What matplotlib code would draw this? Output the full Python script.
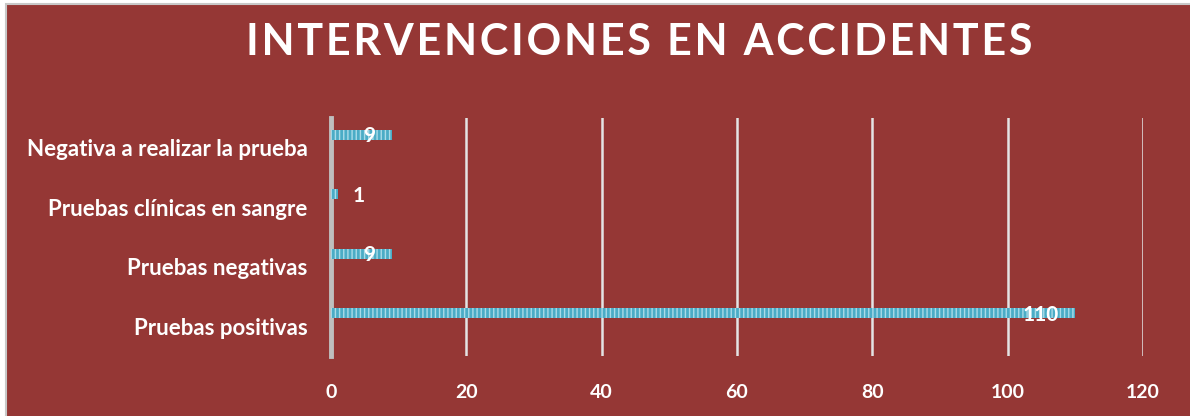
import matplotlib
matplotlib.use("Agg")
import matplotlib.pyplot as plt
from matplotlib.patches import Rectangle

categories = ["Pruebas positivas", "Pruebas negativas",
              "Pruebas clínicas en sangre", "Negativa a realizar la prueba"]
values = [110, 9, 1, 9]
xticks = [0, 20, 40, 60, 80, 100, 120]

red = "#953735"
blue = "#4bacc6"

plt.rcParams["font.family"] = ["Lato", "DejaVu Sans"]
plt.rcParams["hatch.color"] = "#a9dbe8"
plt.rcParams["hatch.linewidth"] = 1.0

fig = plt.figure(figsize=(11.9, 4.16), dpi=100, facecolor="white")
fig.patches.append(Rectangle((6 / 1190, -0.02), 1.02, (416 - 4) / 416 + 0.02,
                             transform=fig.transFigure, facecolor=red,
                             edgecolor="#c8c8c8", lw=1.5, zorder=-5))

ax = fig.add_axes([331 / 1190, 1 - 356 / 416, (1143 - 331) / 1190, (356 - 118) / 416])
ax.set_facecolor("none")

ypos = list(range(len(categories)))
bar_y = [y + 0.22 for y in ypos]
ax.barh(bar_y, values, height=0.17, color=blue, hatch="||||", linewidth=0, zorder=3)

# data labels (Excel-like placement)
label_dx = [-5.1, -3.4, 3.1, -3.4]
for y, v, dx in zip(bar_y, values, label_dx):
    ax.text(v + dx, y - 0.03, str(v), ha="center", va="center", color="white",
            fontsize=15, fontweight="bold", zorder=4)

ax.set_xlim(0, 120)
ax.set_ylim(-0.5, 3.5)
ax.set_xticks(xticks)
ax.set_xticklabels([str(t) for t in xticks])
ax.set_yticks(ypos)
ax.set_yticklabels(categories)
ax.grid(axis="x", color="#e4e4e4", lw=1.8, zorder=1)
ax.set_axisbelow(True)
for s in ["top", "right", "bottom"]:
    ax.spines[s].set_visible(False)
ax.spines["left"].set_color("#bfbfbf")
ax.spines["left"].set_linewidth(3.5)
ax.spines["left"].set_zorder(2)
ax.tick_params(axis="both", length=0, colors="white")
ax.tick_params(axis="x", pad=20, labelsize=14)
ax.tick_params(axis="y", pad=17, labelsize=16)
for lab in ax.get_xticklabels() + ax.get_yticklabels():
    lab.set_fontweight("bold")

title = "\u200a".join("INTERVENCIONES EN ACCIDENTES")
fig.text(0.537, 0.899, title, ha="center", va="center", color="white",
         fontsize=31, fontweight="bold")

fig.savefig("out.png", dpi=100, facecolor=fig.get_facecolor())
